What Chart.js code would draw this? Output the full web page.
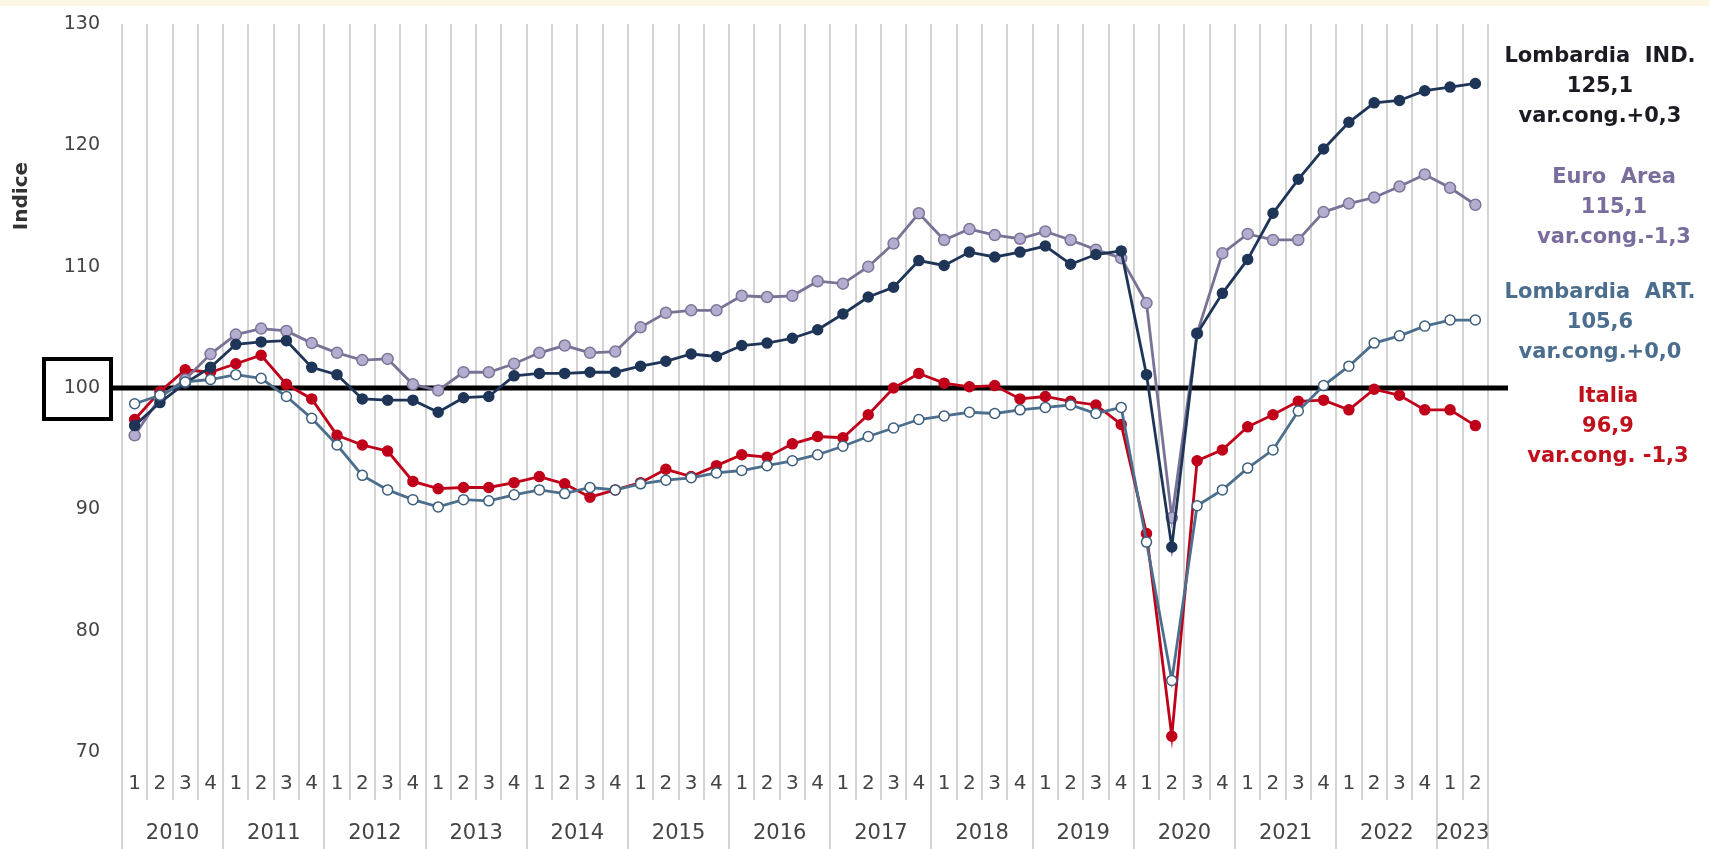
<!DOCTYPE html>
<html>
<head>
<meta charset="utf-8">
<script src="https://cdn.jsdelivr.net/npm/chart.js@4.4.1/dist/chart.umd.min.js"></script>
<style>
  html, body { margin: 0; padding: 0; background: #fff; }
  canvas { display: block; }
</style>
</head>
<body>
<canvas id="indexChart" width="1709" height="849"></canvas>
<script>
// anni e trimestri (2023 solo fino al II trimestre)
const years = [2010, 2011, 2012, 2013, 2014, 2015, 2016, 2017, 2018, 2019, 2020, 2021, 2022, 2023];
const quartersInYear = [4, 4, 4, 4, 4, 4, 4, 4, 4, 4, 4, 4, 4, 2];
const yTicks = [70, 80, 90, 100, 110, 120, 130];

const lombardiaInd = [96.9, 98.8, 100.4, 101.7, 103.6, 103.8, 103.9, 101.7, 101.1, 99.1, 99.0, 99.0,
  98.0, 99.2, 99.3, 101.0, 101.2, 101.2, 101.3, 101.3, 101.8, 102.2, 102.8, 102.6,
  103.5, 103.7, 104.1, 104.8, 106.1, 107.5, 108.3, 110.5, 110.1, 111.2, 110.8, 111.2,
  111.7, 110.2, 111.0, 111.3, 101.1, 86.9, 104.5, 107.8, 110.6, 114.4, 117.2, 119.7,
  121.9, 123.5, 123.7, 124.5, 124.8, 125.1];

const euroArea = [96.1, 99.2, 100.7, 102.8, 104.4, 104.9, 104.7, 103.7, 102.9, 102.3, 102.4, 100.3,
  99.8, 101.3, 101.3, 102.0, 102.9, 103.5, 102.9, 103.0, 105.0, 106.2, 106.4, 106.4,
  107.6, 107.5, 107.6, 108.8, 108.6, 110.0, 111.9, 114.4, 112.2, 113.1, 112.6, 112.3,
  112.9, 112.2, 111.4, 110.7, 107.0, 89.3, 104.5, 111.1, 112.7, 112.2, 112.2, 114.5,
  115.2, 115.7, 116.6, 117.6, 116.5, 115.1];

const lombardiaArt = [98.7, 99.4, 100.5, 100.7, 101.1, 100.8, 99.3, 97.5, 95.3, 92.8, 91.6, 90.8,
  90.2, 90.8, 90.7, 91.2, 91.6, 91.3, 91.8, 91.6, 92.1, 92.4, 92.6, 93.0,
  93.2, 93.6, 94.0, 94.5, 95.2, 96.0, 96.7, 97.4, 97.7, 98.0, 97.9, 98.2,
  98.4, 98.6, 97.9, 98.4, 87.3, 75.9, 90.3, 91.6, 93.4, 94.9, 98.1, 100.2,
  101.8, 103.7, 104.3, 105.1, 105.6, 105.6];

const italia = [97.4, 99.7, 101.5, 101.3, 102.0, 102.7, 100.3, 99.1, 96.1, 95.3, 94.8, 92.3,
  91.7, 91.8, 91.8, 92.2, 92.7, 92.1, 91.0, 91.6, 92.2, 93.3, 92.7, 93.6,
  94.5, 94.3, 95.4, 96.0, 95.9, 97.8, 100.0, 101.2, 100.4, 100.1, 100.2, 99.1,
  99.3, 98.9, 98.6, 97.0, 88.0, 71.3, 94.0, 94.9, 96.8, 97.8, 98.9, 99.0,
  98.2, 99.9, 99.4, 98.2, 98.2, 96.9];

// etichette a destra: nome, ultimo valore, variazione congiunturale
const endLabels = [
  { lines: ['Lombardia  IND.', '125,1', 'var.cong.+0,3'], color: '#1b1b24', x: 1600, y: 57 },
  { lines: ['Euro  Area', '115,1', 'var.cong.-1,3'], color: '#7a6c9c', x: 1614, y: 178 },
  { lines: ['Lombardia  ART.', '105,6', 'var.cong.+0,0'], color: '#4b6d8e', x: 1600, y: 293 },
  { lines: ['Italia', '96,9', 'var.cong. -1,3'], color: '#c0101c', x: 1608, y: 397 }
];

// categorie: un'etichetta per trimestre
const periods = [];
years.forEach((y, i) => {
  for (let q = 1; q <= quartersInYear[i]; q++) periods.push(y + '-' + q);
});

const FONT = "'DejaVu Sans', Verdana, sans-serif";

const decorPlugin = {
  id: 'decor',
  beforeDraw(chart) {
    const ctx = chart.ctx;
    ctx.save();
    ctx.fillStyle = '#fbf6e3';
    ctx.fillRect(0, 0, chart.width, 6);
    ctx.restore();
  },
  beforeDatasetsDraw(chart) {
    const ctx = chart.ctx;
    const xs = chart.scales.x;
    const ys = chart.scales.y;
    const area = chart.chartArea;
    const half = (xs.getPixelForValue(1) - xs.getPixelForValue(0)) / 2;

    // linee verticali tra i trimestri
    ctx.save();
    ctx.strokeStyle = '#d3d3d3';
    ctx.lineWidth = 2;
    const yearStarts = [0];
    quartersInYear.forEach((n, i) => yearStarts.push(yearStarts[i] + n));
    for (let k = 0; k <= periods.length; k++) {
      const x = Math.round(xs.getPixelForValue(Math.min(k, periods.length - 1)) + (k === periods.length ? half : -half));
      const isYear = yearStarts.includes(k);
      ctx.beginPath();
      ctx.moveTo(x, area.top);
      ctx.lineTo(x, isYear ? chart.height : area.bottom + 48);
      ctx.stroke();
    }
    ctx.restore();

    // linea di riferimento a 100
    const y100 = ys.getPixelForValue(100);
    ctx.save();
    ctx.strokeStyle = '#000';
    ctx.lineWidth = 5;
    ctx.beginPath();
    ctx.moveTo(111, y100);
    ctx.lineTo(1508, y100);
    ctx.stroke();
    ctx.restore();
  },
  afterDraw(chart) {
    const ctx = chart.ctx;
    const xs = chart.scales.x;
    const ys = chart.scales.y;
    const y100 = ys.getPixelForValue(100);

    ctx.save();
    // riquadro intorno a 100
    ctx.strokeStyle = '#000';
    ctx.lineWidth = 4;
    ctx.strokeRect(44, y100 - 29, 67, 60);

    // anni sotto i trimestri
    ctx.fillStyle = '#444';
    ctx.font = '21px ' + FONT;
    ctx.textAlign = 'center';
    ctx.textBaseline = 'middle';
    let start = 0;
    years.forEach((y, i) => {
      const end = start + quartersInYear[i] - 1;
      const x = (xs.getPixelForValue(start) + xs.getPixelForValue(end)) / 2;
      ctx.fillText(String(y), x, 834);
      start = end + 1;
    });

    // titolo asse
    ctx.save();
    ctx.translate(22, 196);
    ctx.rotate(-Math.PI / 2);
    ctx.font = 'bold 20px ' + FONT;
    ctx.fillStyle = '#333';
    ctx.fillText('Indice', 0, 0);
    ctx.restore();

    // etichette finali
    ctx.font = 'bold 21px ' + FONT;
    endLabels.forEach(lab => {
      ctx.fillStyle = lab.color;
      lab.lines.forEach((t, j) => ctx.fillText(t, lab.x, lab.y + j * 30));
    });
    ctx.restore();
  }
};

function series(label, data, line, fill, border, radius) {
  return {
    label: label,
    data: data,
    borderColor: line,
    backgroundColor: fill,
    pointBackgroundColor: fill,
    pointBorderColor: border,
    pointBorderWidth: 1.5,
    pointRadius: radius,
    borderWidth: 2.8,
    tension: 0,
    fill: false
  };
}

document.addEventListener('DOMContentLoaded', function() {
  const ctx = document.getElementById('indexChart').getContext('2d');
  new Chart(ctx, {
    type: 'line',
    data: {
      labels: periods,
      datasets: [
        series('Lombardia ART.', lombardiaArt, '#4b6f8c', '#ffffff', '#3d5e7c', 5),
        series('Lombardia IND.', lombardiaInd, '#1f3558', '#1f3558', '#1f3558', 5),
        series('Euro Area', euroArea, '#7a7296', '#b4add0', '#7d7598', 5.5),
        series('Italia', italia, '#c0001a', '#c0001a', '#c0001a', 5)
      ]
    },
    options: {
      responsive: false,
      animation: false,
      layout: { padding: { top: 24, right: 221, left: 0, bottom: 0 } },
      plugins: { legend: { display: false }, tooltip: { enabled: false } },
      scales: {
        x: {
          type: 'category',
          offset: true,
          grid: { display: false },
          border: { display: false },
          ticks: {
            autoSkip: false,
            maxRotation: 0,
            padding: 12,
            color: '#444',
            font: { family: FONT, size: 20 },
            callback: function(v) { return periods[v].split('-')[1]; }
          },
          afterFit: function(s) { s.height = 97; }
        },
        y: {
          min: 70,
          max: 130,
          // la distanza delle etichette dall'area viene da tickLength, non da padding
          grid: { display: false, drawTicks: true, tickLength: 22 },
          border: { display: false },
          afterBuildTicks: function(s) { s.ticks = yTicks.map(v => ({ value: v })); },
          ticks: {
            padding: 0,
            color: '#444',
            font: { family: FONT, size: 19 }
          },
          afterFit: function(s) { s.width = 122; }
        }
      }
    },
    plugins: [decorPlugin]
  });
});
</script>
</body>
</html>
